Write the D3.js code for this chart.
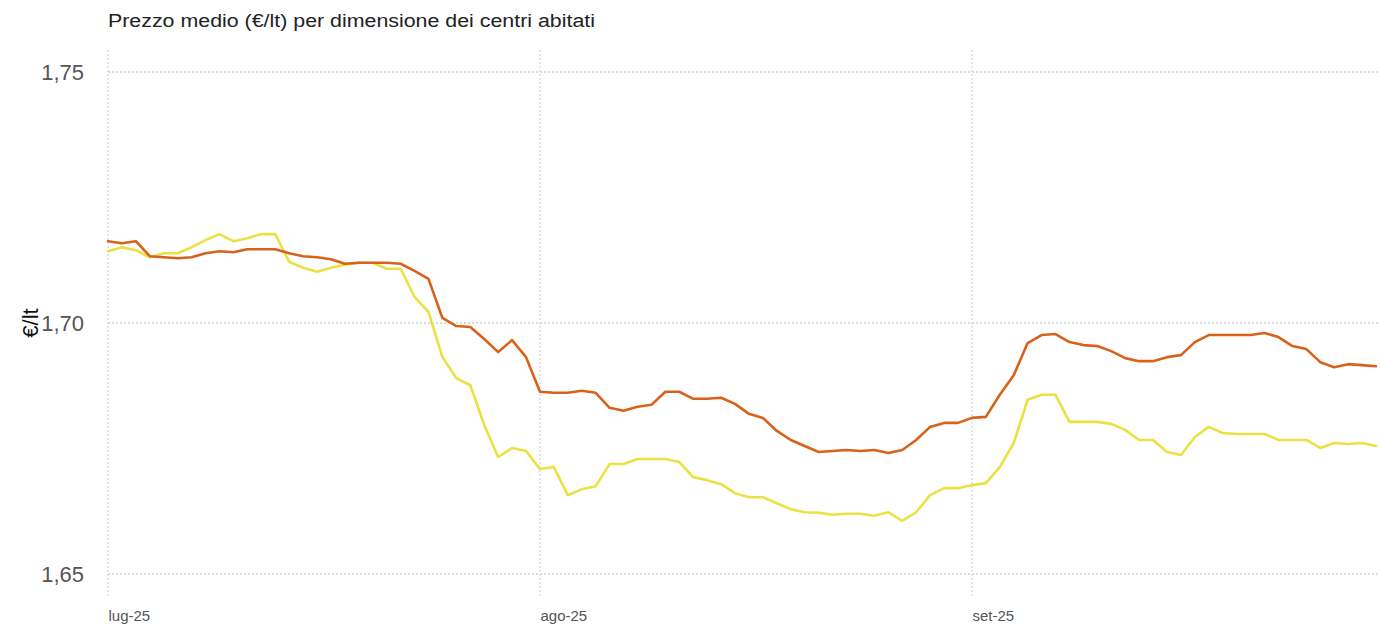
<!DOCTYPE html>
<html><head><meta charset="utf-8">
<script src="https://cdn.jsdelivr.net/npm/d3@7"></script>
<style>body{margin:0;background:#fff;}svg{display:block;font-family:"Liberation Sans",Arial,sans-serif;}</style>
</head><body>
<svg id="c" width="1380" height="628"></svg>
<script>
const title = "Prezzo medio (€/lt) per dimensione dei centri abitati";
const yLabel = "€/lt";
const startDate = "2025-07-01";
const yTicks = [1.65, 1.70, 1.75];
const xTickDates = ["2025-07-01", "2025-08-01", "2025-09-01"];
const xTickLabels = ["lug-25", "ago-25", "set-25"];
const seriesNames = ["Centri grandi", "Centri piccoli"];
const seriesColors = ["#d9621a", "#ebe142"];
const seriesA = [1.7163,1.7159,1.7163,1.7133,1.7131,1.7129,1.7131,1.7139,1.7143,1.7141,1.7147,1.7147,1.7147,1.7139,1.7133,1.7131,1.7127,1.7118,1.7120,1.7120,1.7120,1.7118,1.7104,1.7088,1.7010,1.6994,1.6992,1.6968,1.6942,1.6966,1.6932,
1.6863,1.6861,1.6861,1.6865,1.6861,1.6831,1.6825,1.6833,1.6837,1.6863,1.6863,1.6849,1.6849,1.6851,1.6839,1.6819,1.6811,1.6785,1.6767,1.6755,1.6743,1.6745,1.6747,1.6745,1.6747,1.6741,1.6747,1.6767,1.6793,1.6801,1.6801,
1.6811,1.6813,1.6857,1.6896,1.6960,1.6976,1.6978,1.6962,1.6956,1.6954,1.6944,1.6930,1.6924,1.6924,1.6932,1.6936,1.6962,1.6976,1.6976,1.6976,1.6976,1.6980,1.6972,1.6954,1.6948,1.6922,1.6912,1.6918,1.6916,1.6914];
const seriesB = [1.7143,1.7151,1.7145,1.7131,1.7139,1.7139,1.7151,1.7165,1.7177,1.7163,1.7169,1.7177,1.7177,1.7122,1.7110,1.7102,1.7110,1.7116,1.7120,1.7120,1.7108,1.7108,1.7052,1.7022,1.6932,1.6890,1.6876,1.6797,1.6733,1.6751,1.6745,
1.6709,1.6713,1.6657,1.6669,1.6675,1.6719,1.6719,1.6729,1.6729,1.6729,1.6723,1.6693,1.6687,1.6679,1.6661,1.6653,1.6653,1.6641,1.6629,1.6623,1.6622,1.6618,1.6620,1.6620,1.6616,1.6623,1.6606,1.6623,1.6657,1.6671,1.6671,
1.6677,1.6681,1.6713,1.6761,1.6847,1.6857,1.6857,1.6803,1.6803,1.6803,1.6799,1.6787,1.6767,1.6767,1.6743,1.6737,1.6773,1.6793,1.6781,1.6779,1.6779,1.6779,1.6767,1.6767,1.6767,1.6751,1.6761,1.6759,1.6761,1.6755];

const svg = d3.select("#c");
const parse = d3.utcParse("%Y-%m-%d");
const t0 = parse(startDate);
const dates = seriesA.map((_, i) => d3.utcDay.offset(t0, i));

const x = d3.scaleUtc().domain([t0, dates[dates.length - 1]]).range([108, 1376]);
const y = d3.scaleLinear().domain([1.65, 1.75]).range([574, 72]);

// gridlines
const grid = svg.append("g");
grid.selectAll("line.h").data(yTicks).join("line")
  .attr("x1", 108).attr("x2", 1378)
  .attr("y1", d => y(d)).attr("y2", d => y(d))
  .attr("stroke", "#b8b8b8").attr("stroke-width", 1).attr("stroke-dasharray", "2,2");
grid.selectAll("line.v").data(xTickDates).join("line")
  .attr("x1", d => x(parse(d))).attr("x2", d => x(parse(d)))
  .attr("y1", 50).attr("y2", 598)
  .attr("stroke", "#cccccc").attr("stroke-width", 1).attr("stroke-dasharray", "2,2");

// y axis labels
const yAxis = d3.axisLeft(y).tickValues(yTicks).tickSize(0).tickPadding(0)
  .tickFormat(d => d3.format(".2f")(d).replace(".", ","));
const ga = svg.append("g").attr("transform", "translate(84,0)").call(yAxis);
ga.select(".domain").remove();
ga.selectAll("text").attr("font-size", 22).attr("fill", "#555").attr("font-family", "Liberation Sans, Arial, sans-serif");

// x axis labels
const xAxis = d3.axisBottom(x).tickValues(xTickDates.map(parse)).tickSize(0).tickPadding(0)
  .tickFormat((d, i) => xTickLabels[i]);
const gx = svg.append("g").attr("transform", "translate(0,610)").call(xAxis);
gx.select(".domain").remove();
gx.selectAll("text").attr("font-size", 15).attr("fill", "#555").attr("text-anchor", "start")
  .attr("font-family", "Liberation Sans, Arial, sans-serif");

// title
svg.append("text").attr("x", 108).attr("y", 27).attr("font-size", 18).attr("fill", "#222")
  .attr("textLength", 487).attr("lengthAdjust", "spacingAndGlyphs").text(title);

// y label
svg.append("text").attr("transform", "translate(38,323) rotate(-90)")
  .attr("text-anchor", "middle").attr("font-size", 22).attr("fill", "#111").text(yLabel);

// lines
const line = d3.line().x((d, i) => x(dates[i])).y(d => y(d));
[seriesB, seriesA].forEach((s, k) => {
  const idx = k === 0 ? 1 : 0;
  svg.append("path").datum(s).attr("d", line)
    .attr("fill", "none").attr("stroke", seriesColors[idx]).attr("stroke-width", 2.6)
    .attr("stroke-linejoin", "round").attr("stroke-linecap", "round")
    .append("title").text(seriesNames[idx]);
});
</script>
</body></html>
